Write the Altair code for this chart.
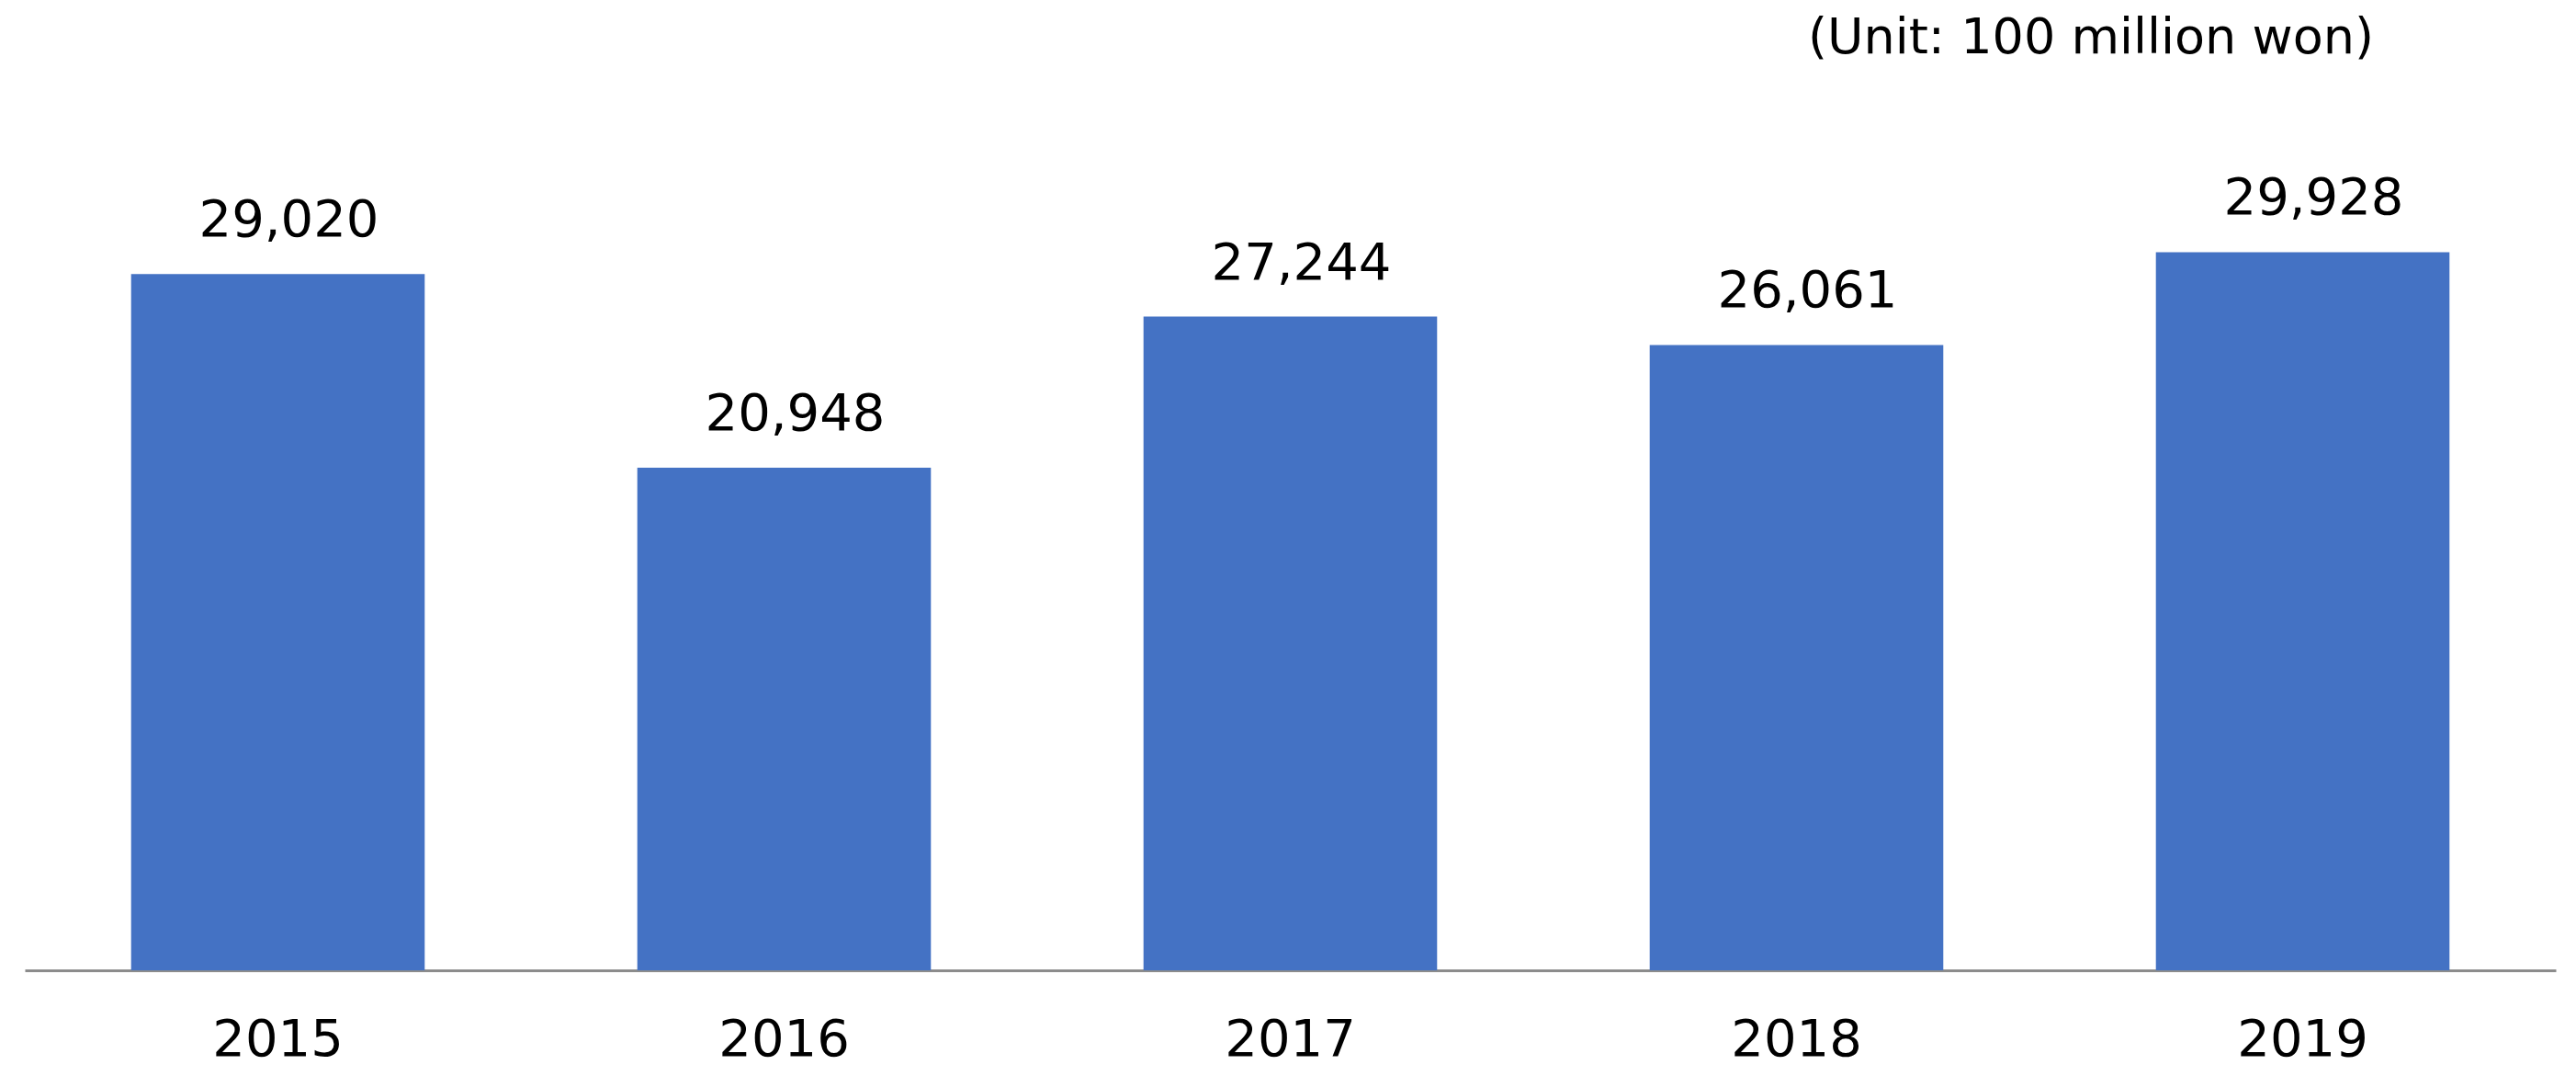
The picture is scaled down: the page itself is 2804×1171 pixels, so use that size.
import altair as alt
import pandas as pd

years = ["2015", "2016", "2017", "2018", "2019"]
values = [29020, 20948, 27244, 26061, 29928]
unit_text = "(Unit: 100 million won)"

df = pd.DataFrame({"year": years, "value": values})
FONT = "DejaVu Sans"

base = alt.Chart(df).encode(
    x=alt.X(
        "year:N",
        sort=years,
        scale=alt.Scale(paddingInner=0.42, paddingOuter=0.21),
        axis=alt.Axis(
            title=None,
            labelAngle=0,
            ticks=False,
            domainColor="#8c8c8c",
            domainWidth=3,
            labelFontSize=56,
            labelFont=FONT,
            labelColor="#000000",
            labelBaseline="alphabetic",
            labelPadding=92,
            grid=False,
        ),
    ),
    y=alt.Y(
        "value:Q",
        scale=alt.Scale(domain=[0, 35000]),
        axis=None,
    ),
)

bars = base.mark_bar(color="#4472C4")
labels = base.mark_text(
    baseline="alphabetic",
    align="center",
    dy=-41,
    dx=12,
    fontSize=56,
    font=FONT,
    color="#000000",
).encode(text=alt.Text("value:Q", format=",d"))

chart = (
    alt.layer(bars, labels)
    .properties(
        width=2755,
        height=914,
        background="white",
        padding={"left": 19, "top": 134, "right": 14, "bottom": 104},
        autosize=alt.AutoSizeParams(type="none"),
        title=alt.Title(
            unit_text,
            anchor="end",
            orient="top",
            frame="group",
            offset=73,
            dx=-198,
            fontSize=54,
            font=FONT,
            fontWeight="normal",
            color="#000000",
        ),
    )
    .configure_view(strokeWidth=0, stroke="transparent")
)

chart.save("out.html", embed_options={"renderer": "svg", "actions": False})
